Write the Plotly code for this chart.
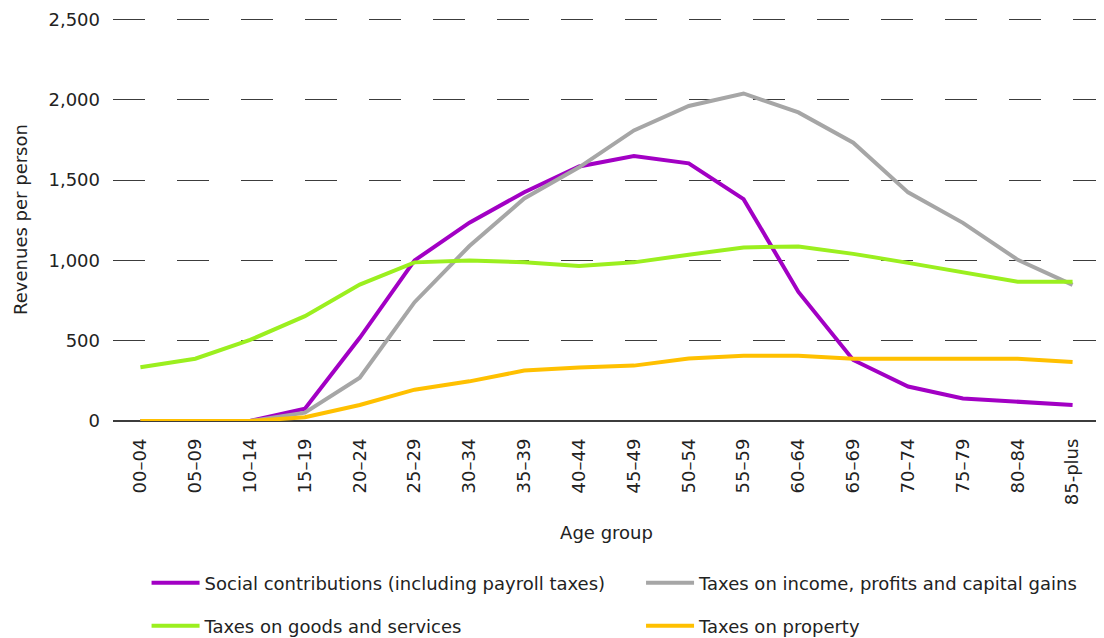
import plotly.graph_objects as go

age_groups = ["00–04", "05–09", "10–14", "15–19", "20–24", "25–29", "30–34", "35–39",
              "40–44", "45–49", "50–54", "55–59", "60–64", "65–69", "70–74", "75–79",
              "80–84", "85-plus"]

social = [0, 0, 0, 77, 518, 1000, 1235, 1425, 1585, 1650, 1605, 1382, 804, 380, 215, 140, 118, 100]
income = [0, 0, 0, 52, 270, 740, 1090, 1386, 1580, 1810, 1962, 2040, 1922, 1733, 1424, 1234, 1004, 848]
goods = [335, 388, 505, 653, 850, 988, 1000, 988, 966, 988, 1036, 1081, 1087, 1041, 985, 923, 867, 867]
prop = [0, 0, 0, 23, 100, 195, 247, 314, 333, 345, 389, 407, 407, 388, 388, 388, 388, 368]

y_ticks = [0, 500, 1000, 1500, 2000, 2500]

names = ["Social contributions (including payroll taxes)",
         "Taxes on income, profits and capital gains",
         "Taxes on goods and services",
         "Taxes on property"]
colors = ["#A200C4", "#A6A6A6", "#9BEF1F", "#FFC000"]
legend_ids = ["legend", "legend2", "legend3", "legend4"]
# legend placement (paper coords): two columns, two rows
legend_pos = [(0.034, -0.402), (0.535, -0.402), (0.034, -0.509), (0.535, -0.509)]

FONT = "DejaVu Sans"
TXT = "#222222"

fig = go.Figure()
for vals, name, col, lg in zip([social, income, goods, prop], names, colors, legend_ids):
    fig.add_trace(go.Scatter(
        x=age_groups, y=vals, name=name, mode="lines",
        line=dict(color=col, width=4),
        legend=lg,
    ))

def legend_cfg(x, y):
    return dict(
        x=x, y=y, orientation="h", xanchor="left", yanchor="middle",
        font=dict(family=FONT, size=18, color=TXT),
        bgcolor="rgba(0,0,0,0)", itemwidth=48,
    )

layout_legends = {lid: legend_cfg(*pos) for lid, pos in zip(legend_ids, legend_pos)}

# page body adds an 8px margin, so the figure is 8px smaller and offsets reduced by 8
fig.update_layout(
    width=1096, height=630,
    margin=dict(l=105, r=4, t=10, b=217, autoexpand=False),
    paper_bgcolor="white", plot_bgcolor="white",
    font=dict(family=FONT, size=18, color=TXT),
    showlegend=True,
    **layout_legends,
    xaxis=dict(
        type="category", range=[-0.5, 17.5],
        tickangle=-90, showgrid=False, showline=False, zeroline=False,
        ticks="", ticklabelstandoff=13,
        tickfont=dict(family=FONT, size=18, color=TXT),
        title=dict(text="Age group", font=dict(family=FONT, size=18, color=TXT), standoff=22),
    ),
    yaxis=dict(
        range=[0, 2510], tickvals=y_ticks,
        tickformat=",d", showgrid=True, gridcolor="#3c3c3c", gridwidth=1,
        griddash="32px,32px", zeroline=True, zerolinecolor="#3c3c3c", zerolinewidth=1.5,
        showline=False, ticks="", ticklabelstandoff=12,
        tickfont=dict(family=FONT, size=18, color=TXT),
        title=dict(text="Revenues per person", font=dict(family=FONT, size=18, color=TXT), standoff=16),
    ),
)

fig.write_html("out.html")
